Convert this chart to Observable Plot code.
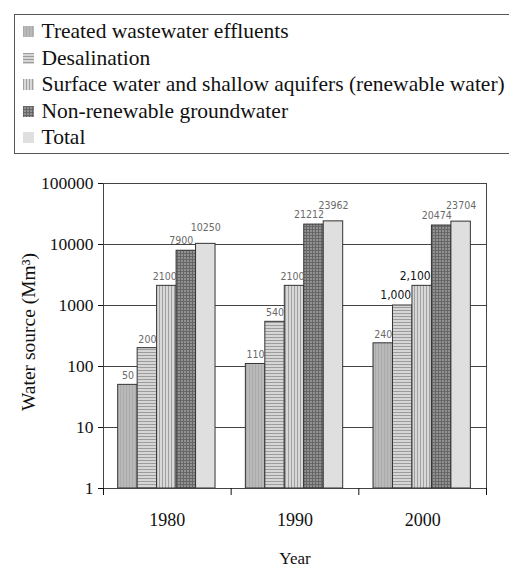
<!DOCTYPE html>
<html>
<head>
<meta charset="utf-8">
<script src="https://cdn.jsdelivr.net/npm/d3@7"></script>
<script src="https://cdn.jsdelivr.net/npm/@observablehq/plot@0.6"></script>
<style>
  html, body { margin: 0; padding: 0; background: #fff; }
  body { width: 509px; height: 568px; overflow: hidden; position: relative; }
  #legend {
    position: absolute; left: 14px; top: 14px; width: 540px; height: 140px;
    box-sizing: border-box; border: 1.5px solid #555; padding-top: 3.5px;
    font-family: "Liberation Serif", "Times New Roman", serif; font-size: 21.5px; color: #111;
  }
  #legend .row { display: flex; align-items: center; height: 26.5px; white-space: nowrap; }
  #legend svg { margin-left: 7.5px; margin-right: 8px; flex: none; }
  #chart { position: absolute; left: 0; top: 160px; }
</style>
</head>
<body>
<svg width="0" height="0" style="position:absolute">
  <defs>
    <pattern id="pTreated" patternUnits="userSpaceOnUse" width="3" height="3">
      <rect width="3" height="3" fill="#b9b9b9"/>
      <rect width="1" height="3" fill="#ababab"/>
    </pattern>
    <pattern id="pDesal" patternUnits="userSpaceOnUse" width="3" height="3">
      <rect width="3" height="3" fill="#d6d6d6"/>
      <rect width="3" height="1" fill="#9c9c9c"/>
    </pattern>
    <pattern id="pSurface" patternUnits="userSpaceOnUse" width="3" height="3">
      <rect width="3" height="3" fill="#d8d8d8"/>
      <rect width="1" height="3" fill="#a0a0a0"/>
    </pattern>
    <pattern id="pNonRenew" patternUnits="userSpaceOnUse" width="3" height="3">
      <rect width="3" height="3" fill="#929292"/>
      <rect width="3" height="1" fill="#666"/>
      <rect width="1" height="3" fill="#666"/>
    </pattern>
    <pattern id="pTotal" patternUnits="userSpaceOnUse" width="3" height="3">
      <rect width="3" height="3" fill="#dfdfdf"/>
    </pattern>
  </defs>
</svg>
<div id="legend"></div>
<div id="chart"></div>
<script>
// ---- data ----
const years = ["1980", "1990", "2000"];
const seriesNames = [
  "Treated wastewater effluents",
  "Desalination",
  "Surface water and shallow aquifers (renewable water)",
  "Non-renewable groundwater",
  "Total"
];
const treated = [50, 110, 240];
const desalination = [200, 540, 1000];
const surface = [2100, 2100, 2100];
const nonRenewable = [7900, 21212, 20474];
const total = [10250, 23962, 23704];

const treatedLabels = ["50", "110", "240"];
const desalinationLabels = ["200", "540", "1,000"];
const surfaceLabels = ["2100", "2100", "2,100"];
const nonRenewableLabels = ["7900", "21212", "20474"];
const totalLabels = ["10250", "23962", "23704"];

const yTicks = [1, 10, 100, 1000, 10000, 100000];

// ---- styles ----
const fills = ["url(#pTreated)", "url(#pDesal)", "url(#pSurface)", "url(#pNonRenew)", "url(#pTotal)"];
const labelDy = [-9, -9, -9, -10, -16];
const labelDx = [0, 0, -2, -5, 0];

const values = [treated, desalination, surface, nonRenewable, total];
const labels = [treatedLabels, desalinationLabels, surfaceLabels, nonRenewableLabels, totalLabels];

// group layout within each year band (band = 1 unit)
const groupOffset = 0.115;
const barW = 0.1525;

const bars = [];
values.forEach((arr, s) => arr.forEach((v, i) => {
  const x1 = i + groupOffset + s * barW;
  bars.push({s, i, value: v, label: labels[s][i], hi: labels[s][i].includes(","), x1, x2: x1 + barW, xm: x1 + barW / 2});
}));

// ---- legend ----
const legend = document.getElementById("legend");
seriesNames.forEach((name, s) => {
  const row = document.createElement("div");
  row.className = "row";
  row.innerHTML = `<svg width="11" height="11"><rect width="11" height="11" fill="${fills[s]}"/></svg><span>${name}</span>`;
  legend.appendChild(row);
});

// ---- chart ----
const marks = [
  Plot.ruleY(yTicks, {stroke: "#444", strokeWidth: 1}),
  ...seriesNames.map((_, s) => Plot.rect(bars.filter(d => d.s === s), {
    x1: "x1", x2: "x2", y1: () => 1, y2: "value",
    fill: fills[s], stroke: "#333", strokeWidth: 1
  })),
  Plot.frame({stroke: "#444"}),
  Plot.axisY({ticks: yTicks, tickFormat: d => String(d), tickSize: 5, tickPadding: 5, fontSize: 17.5, label: null}),
  Plot.axisX({ticks: [0, 1, 2, 3], tickFormat: () => "", tickSize: 7, label: null}),
  Plot.axisX({ticks: [0.5, 1.5, 2.5], tickFormat: d => years[Math.floor(d)], tickSize: 0, tickPadding: 25, fontSize: 18, label: null}),
  ...seriesNames.map((_, s) => Plot.text(bars.filter(d => d.s === s && !d.hi), {
    x: "xm", y: "value", text: "label", dy: labelDy[s], dx: labelDx[s],
    fontFamily: "'Liberation Sans Narrow', 'DejaVu Sans Condensed', sans-serif",
    fontSize: 10.5, fill: "#6a6a6a"
  })),
  Plot.text(bars.filter(d => d.hi), {
    x: "xm", y: "value", text: "label", dy: -10, dx: -7,
    fontFamily: "'Liberation Sans Narrow', 'DejaVu Sans Condensed', sans-serif",
    fontSize: 12, fill: "#111"
  }),
  Plot.text(["Year"], {text: d => d, frameAnchor: "bottom", dy: 70, textAnchor: "middle", lineAnchor: "middle", fontSize: 17}),
  Plot.text(["Water source (Mm³)"], {text: d => d, frameAnchor: "left", rotate: -90, dx: -75, dy: -4, textAnchor: "middle", lineAnchor: "middle", fontSize: 19.5})
];

const chart = Plot.plot({
  width: 509,
  height: 408,
  marginTop: 23,
  marginBottom: 80,
  marginLeft: 103,
  marginRight: 23,
  x: {type: "linear", domain: [0, 3]},
  y: {type: "log", domain: [1, 100000]},
  style: {fontFamily: "'Liberation Serif', 'Times New Roman', serif", fontSize: "17.5px", color: "#111", background: "white", overflow: "visible"},
  marks
});
document.getElementById("chart").appendChild(chart);
</script>
</body>
</html>
